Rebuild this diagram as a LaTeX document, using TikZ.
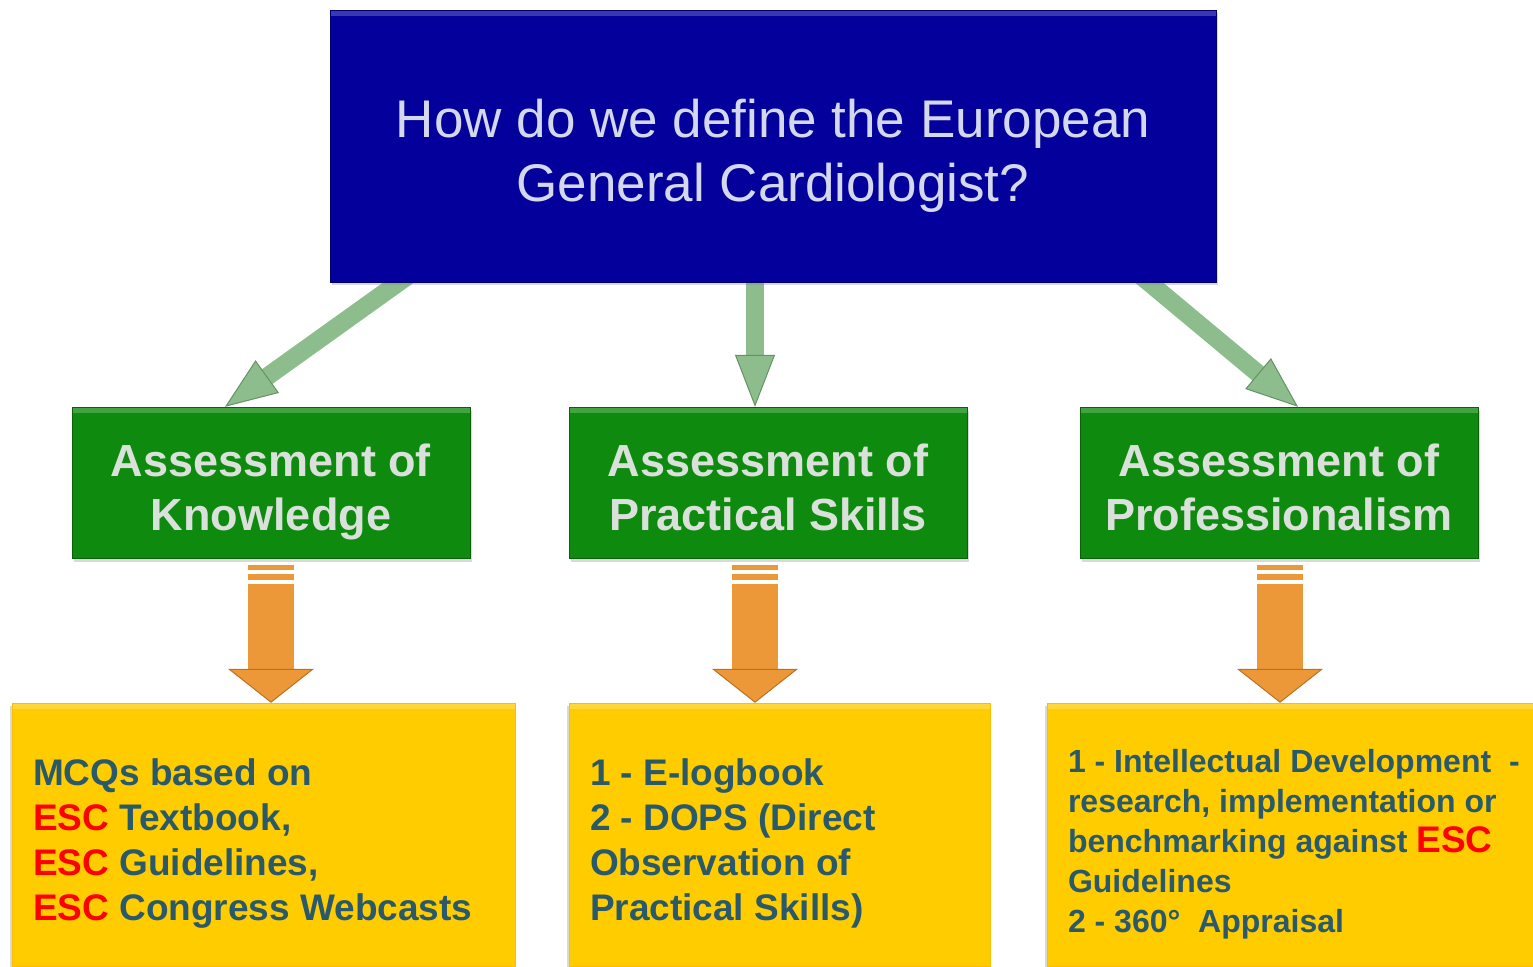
\documentclass[tikz,border=0pt]{standalone}
\usepackage{fontspec}
\setmainfont{Liberation Sans}
\usetikzlibrary{positioning,calc,arrows.meta,shadows,backgrounds}

\definecolor{titleblue}{RGB}{3,0,156}
\definecolor{titletext}{RGB}{212,216,236}
\definecolor{headgreen}{RGB}{14,138,14}
\definecolor{headtext}{RGB}{218,224,218}
\definecolor{bodyyellow}{RGB}{255,204,0}
\definecolor{bodytext}{RGB}{41,89,107}
\definecolor{escred}{RGB}{255,0,0}
\definecolor{linkgreen}{RGB}{141,188,141}
\definecolor{linkedge}{RGB}{100,146,100}
\definecolor{dropfill}{RGB}{236,152,56}
\definecolor{dropedge}{RGB}{188,112,32}

\newcommand{\esc}{{\color{escred}ESC}}

\tikzset{
	bevel/.style={path picture={\fill[white,opacity=0.22] (path picture bounding box.north west) rectangle ([yshift=-6pt]path picture bounding box.north east);}},
	% struts on first and last line, to sit the text like the slide does
	lift/.style 2 args={execute at begin node={\rule{0pt}{#1}}, execute at end node={\rule[-#2]{0pt}{#2}}},
	titlebox/.style={fill=titleblue, draw=titleblue!70!black, bevel, text=titletext, align=flush center, text width=820pt,
		minimum width=886pt, minimum height=272pt, font=\fontsize{53}{64}\selectfont, lift={57pt}{11pt},
		drop shadow={shadow xshift=2pt,shadow yshift=-3pt,opacity=0.3}},
	headbox/.style={fill=headgreen, draw=headgreen!70!black, bevel, text=headtext, align=flush center, text width=380pt,
		minimum width=398pt, minimum height=151pt, font=\bfseries\fontsize{45}{54}\selectfont, lift={52pt}{10pt},
		drop shadow={shadow xshift=2pt,shadow yshift=-4pt,opacity=0.3}},
	bodybox/.style={fill=bodyyellow, draw=bodyyellow!80!orange, bevel, text=bodytext, align=flush left,
		minimum height=263pt, inner xsep=21pt, font=\bfseries\fontsize{37}{45}\selectfont, lift={44pt}{8pt},
		drop shadow={shadow xshift=-2pt,shadow yshift=-3pt,opacity=0.3}},
	link/.style={draw=linkgreen, line width=18pt,
		-{Triangle[length=52pt,width=40pt,line width=1pt,color=linkedge,fill=linkgreen]}},
	drop/.style={draw=dropfill, line width=46pt,
		-{Triangle[length=34pt,width=86pt,line width=1pt,color=dropedge,fill=dropfill]}},
	dropbar/.style={draw=dropfill},
}

\begin{document}
\begin{tikzpicture}[x=1pt,y=-1pt]
	\useasboundingbox (0,0) rectangle (1533,966);
	\clip (0,0) rectangle (1533,966);

	% question
	\node[titlebox] (title) at (773,146) {How do we define the European\\General Cardiologist?};

	% three kinds of assessment
	\node[headbox] (know) at (271,482.5) {Assessment of\\Knowledge};
	\node[headbox] (skill) at (768,482.5) {Assessment of\\Practical Skills};
	\node[headbox] (prof) at (1279,482.5) {Assessment of\\Professionalism};

	% how they are assessed
	\node[bodybox, text width=461pt] (mcq) at (263.5,834.5) {MCQs based on\\\esc{} Textbook,\\\esc{} Guidelines,\\\esc{} Congress Webcasts};
	\node[bodybox, text width=379pt] (dops) at (779.5,834.5) {1 - E-logbook\\2 - DOPS (Direct\\Observation of\\Practical Skills)};
	\node[bodybox, text width=462pt, font=\bfseries\fontsize{32}{40}\selectfont, lift={38pt}{7pt}] (appr) at (1299,834.5) {1 - Intellectual Development\ \ -\\research, implementation or\\benchmarking against {\fontsize{37}{40}\selectfont\esc}\\Guidelines\\2 - 360°\ \ Appraisal};

	\begin{scope}[on background layer]
		\draw[link] ($(title.south west)+(86,-12)$) -- ($(know.north)+(-46,0)$);
		\draw[link] ($(skill.north)+(-13,-135)$) -- ($(skill.north)+(-13,0)$);
		\draw[link] ($(title.south east)+(-82,-12)$) -- ($(prof.north)+(19,0)$);
	\end{scope}

	% orange arrows
	\draw[dropbar, line width=5pt] ($(know.south)+(-23,9.5)$) -- ++(46,0);
	\draw[dropbar, line width=6pt] ($(know.south)+(-23,19)$) -- ++(46,0);
	\draw[drop] ($(know.south)+(0,26)$) -- (know.south |- mcq.north);

	\draw[dropbar, line width=5pt] ($(skill.south)+(-36,9.5)$) -- ++(46,0);
	\draw[dropbar, line width=6pt] ($(skill.south)+(-36,19)$) -- ++(46,0);
	\draw[drop] ($(skill.south)+(-13,26)$) -- ($(skill.south |- dops.north)+(-13,0)$);

	\draw[dropbar, line width=5pt] ($(prof.south)+(-22,9.5)$) -- ++(46,0);
	\draw[dropbar, line width=6pt] ($(prof.south)+(-22,19)$) -- ++(46,0);
	\draw[drop] ($(prof.south)+(1,26)$) -- ($(prof.south |- appr.north)+(1,0)$);
\end{tikzpicture}
\end{document}
